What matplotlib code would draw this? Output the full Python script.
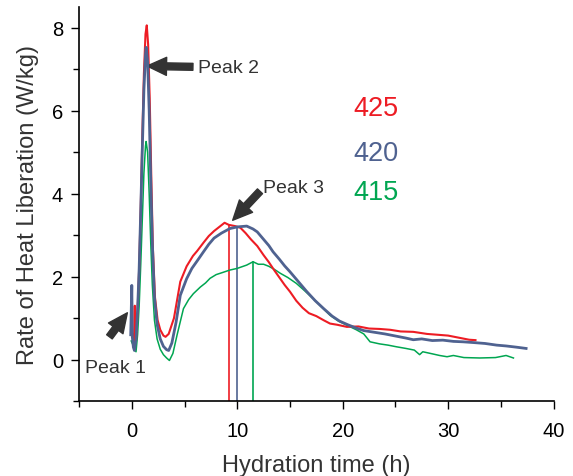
import matplotlib
matplotlib.use("Agg")
import matplotlib.pyplot as plt
from matplotlib.ticker import MultipleLocator

plt.rcParams["font.family"] = ["Liberation Sans", "DejaVu Sans"]

# ── data (h, W/kg) ──
t_425 = [0.1, 0.2, 0.28, 0.33, 0.4, 0.55, 0.7, 0.85, 1.0, 1.15, 1.3, 1.42, 1.55,
         1.7, 1.85, 2.0, 2.2, 2.45, 2.7, 3.0, 3.2, 3.5, 4.0, 4.6, 5.2, 5.8, 6.2,
         6.8, 7.3, 7.8, 8.3, 8.8, 9.2, 9.8, 10.3, 10.8, 11.3, 11.9, 12.5, 13.0,
         13.5, 14.0, 14.5, 15.0, 15.6, 16.2, 16.8, 17.5, 18.2, 18.8, 19.5, 20.4,
         21.5, 22.5, 23.5, 24.5, 25.5, 26.7, 28.0, 29.0, 30.0, 31.0, 32.0, 32.6]
q_425 = [0.6, 0.35, 1.3, 0.5, 0.45, 1.2, 2.2, 3.7, 5.4, 6.9, 7.85, 8.06, 7.6,
         6.3, 4.4, 2.7, 1.5, 0.95, 0.72, 0.58, 0.55, 0.62, 1.0, 1.88, 2.25, 2.5, 2.62,
         2.82, 2.98, 3.1, 3.2, 3.3, 3.25, 3.22, 3.18, 3.05, 2.9, 2.74, 2.52, 2.35,
         2.16, 1.98, 1.8, 1.64, 1.42, 1.25, 1.12, 1.05, 0.95, 0.87, 0.84, 0.79,
         0.8, 0.75, 0.74, 0.72, 0.68, 0.67, 0.62, 0.6, 0.58, 0.53, 0.48, 0.47]

t_420 = [-0.1, 0.0, 0.05, 0.15, 0.25, 0.4, 0.55, 0.7, 0.85, 1.0, 1.15, 1.3, 1.36,
         1.5, 1.65, 1.8, 1.95, 2.15, 2.4, 2.7, 3.0, 3.3, 3.5, 3.8, 4.2, 4.6, 5.2,
         5.7, 6.2, 6.8, 7.3, 7.8, 8.5, 9.3, 10.0, 10.9, 11.5, 11.9, 12.5, 13.0,
         13.4, 14.0, 14.5, 15.0, 15.8, 16.6, 17.4, 18.2, 19.0, 19.7, 20.5, 21.2,
         22.0, 23.0, 24.0, 25.0, 26.0, 26.7, 27.5, 28.5, 29.5, 30.5, 31.4, 32.5,
         33.5, 34.6, 35.5, 36.5, 37.4]
q_420 = [0.6, 1.79, 0.55, 0.3, 0.22, 0.5, 1.2, 2.2, 3.6, 5.1, 6.5, 7.35, 7.53,
         7.2, 6.0, 4.3, 2.8, 1.5, 0.85, 0.5, 0.32, 0.24, 0.22, 0.4, 0.9, 1.55, 1.95,
         2.2, 2.38, 2.6, 2.78, 2.93, 3.05, 3.16, 3.2, 3.22, 3.15, 3.08, 2.9, 2.75,
         2.6, 2.42, 2.26, 2.12, 1.88, 1.64, 1.42, 1.23, 1.05, 0.93, 0.84, 0.77,
         0.7, 0.66, 0.62, 0.57, 0.52, 0.48, 0.5, 0.46, 0.47, 0.44, 0.43, 0.41,
         0.39, 0.35, 0.33, 0.3, 0.27]

t_415 = [-0.05, 0.2, 0.4, 0.55, 0.7, 0.85, 1.0, 1.15, 1.3, 1.36, 1.5, 1.65, 1.8,
         1.95, 2.15, 2.4, 2.7, 3.0, 3.3, 3.57, 3.9, 4.3, 4.9, 5.4, 5.84, 6.5, 7.0,
         7.42, 8.0, 8.6, 9.3, 10.0, 10.9, 11.5, 12.0, 12.5, 13.0, 13.5, 14.1, 14.8,
         15.6, 16.4, 17.2, 18.0, 18.8, 19.6, 20.4, 21.3, 22.0, 22.6, 23.5, 24.3,
         25.1, 26.0, 26.8, 27.3, 27.6, 28.5, 29.2, 29.9, 30.5, 31.5, 33.0, 34.5,
         35.5, 36.2]
q_415 = [0.45, 0.3, 0.19, 0.6, 1.3, 2.3, 3.4, 4.5, 5.15, 5.26, 5.0, 4.0, 2.8,
         1.8, 0.95, 0.5, 0.25, 0.12, 0.04, -0.02, 0.15, 0.6, 1.23, 1.45, 1.59, 1.75, 1.85,
         1.96, 2.05, 2.1, 2.16, 2.2, 2.28, 2.36, 2.3, 2.3, 2.25, 2.18, 2.08, 1.98,
         1.84, 1.66, 1.47, 1.27, 1.07, 0.93, 0.83, 0.72, 0.62, 0.43, 0.38, 0.35,
         0.31, 0.27, 0.23, 0.12, 0.19, 0.14, 0.1, 0.07, 0.1, 0.05, 0.04, 0.05,
         0.1, 0.04]

# Peak 3 markers (time, rate)
peak3_t = [9.2, 10.0, 11.5]
peak3_q = [3.25, 3.2, 2.36]

RED = "#ed1c24"
BLUE = "#4f6290"
GREEN = "#00a651"
DARK = "#333333"

fig = plt.figure(figsize=(5.73, 4.77), dpi=100)
ax = fig.add_axes([0.138, 0.157, 0.828, 0.826])

ax.plot(t_415, q_415, color=GREEN, lw=1.1, zorder=2)
ax.plot(t_425, q_425, color=RED, lw=1.5, zorder=3)
ax.plot(t_420, q_420, color=BLUE, lw=2.0, zorder=4)

for t, q, c in zip(peak3_t, peak3_q, [RED, BLUE, GREEN]):
    ax.plot([t, t], [-1, q], color=c, lw=1.2, zorder=1)

ax.set_xlim(-5, 40)
ax.set_ylim(-1, 8.5)
ax.xaxis.set_major_locator(MultipleLocator(10))
ax.xaxis.set_minor_locator(MultipleLocator(5))
ax.yaxis.set_major_locator(MultipleLocator(2))
ax.yaxis.set_minor_locator(MultipleLocator(1))
ax.tick_params(which="both", direction="out", width=1.0, labelsize=14.5)
ax.tick_params(which="major", length=5.5)
ax.tick_params(which="minor", length=4.5)
ax.tick_params(axis="x", which="major", pad=9)
ax.tick_params(axis="y", which="major", pad=6)
for s in ["top", "right"]:
    ax.spines[s].set_visible(False)
for s in ["left", "bottom"]:
    ax.spines[s].set_linewidth(1.2)

ax.set_xlabel("Hydration time (h)", fontsize=17, color=DARK, labelpad=10)
ax.set_ylabel("Rate of Heat Liberation (W/kg)", fontsize=17, color=DARK, labelpad=9)

arrow = dict(arrowstyle="simple,head_length=1.4,head_width=1.3,tail_width=0.5",
             mutation_scale=10, color=DARK, shrinkA=0, shrinkB=0)
ax.annotate("", xy=(1.45, 7.08), xytext=(5.8, 7.06), arrowprops=arrow)
ax.annotate("", xy=(9.57, 3.36), xytext=(12.16, 4.06), arrowprops=arrow)
ax.annotate("", xy=(-0.42, 1.13), xytext=(-2.12, 0.55), arrowprops=arrow)

ax.text(6.25, 7.05, "Peak 2", fontsize=14, color=DARK, va="center")
ax.text(12.47, 4.15, "Peak 3", fontsize=14, color=DARK, va="center")
ax.text(-4.41, -0.2, "Peak 1", fontsize=14, color=DARK, va="center")

ax.text(21.0, 6.06, "425", fontsize=19.5, color=RED, va="center")
ax.text(21.0, 4.98, "420", fontsize=19.5, color=BLUE, va="center")
ax.text(21.0, 4.03, "415", fontsize=19.5, color=GREEN, va="center")

fig.savefig("out.png", dpi=100)
